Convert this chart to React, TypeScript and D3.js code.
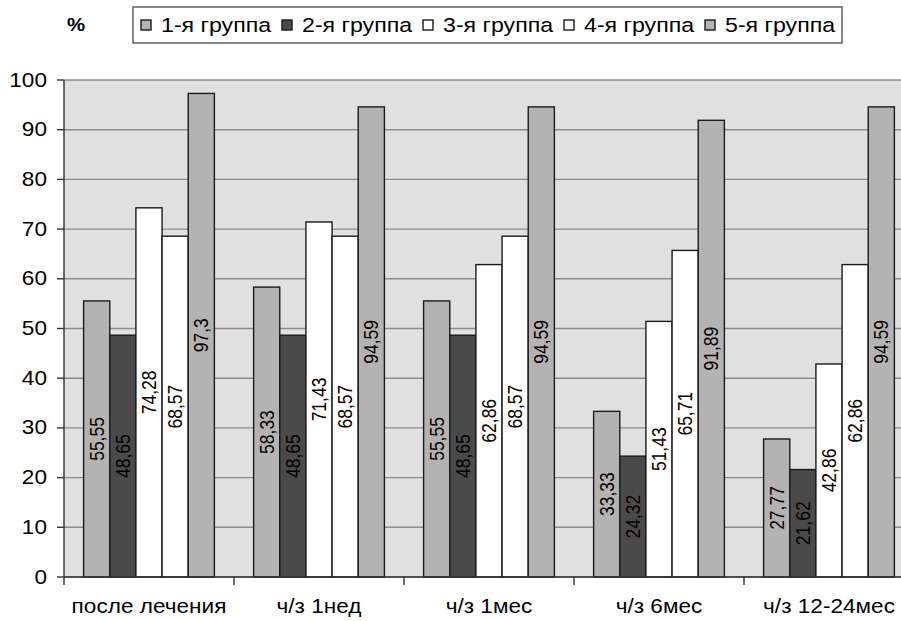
import React from 'react';
import * as d3 from 'd3';

const categories = ['после лечения', 'ч/з 1нед', 'ч/з 1мес', 'ч/з 6мес', 'ч/з 12-24мес'];
const seriesNames = ['1-я группа', '2-я группа', '3-я группа', '4-я группа', '5-я группа'];
const group1 = [55.55, 58.33, 55.55, 33.33, 27.77];
const group2 = [48.65, 48.65, 48.65, 24.32, 21.62];
const group3 = [74.28, 71.43, 62.86, 51.43, 42.86];
const group4 = [68.57, 68.57, 68.57, 65.71, 62.86];
const group5 = [97.3, 94.59, 94.59, 91.89, 94.59];
const yTicks = [0, 10, 20, 30, 40, 50, 60, 70, 80, 90, 100];
const seriesColors = ['#b3b3b3', '#4a4a4a', '#ffffff', '#ffffff', '#b3b3b3'];

const W = 901;
const H = 621;
const FONT = 'Arial, "Liberation Sans", sans-serif';
const SX = 1.13;

export default function App() {
  const series = [group1, group2, group3, group4, group5];
  const plotLeft = 64;
  const plotRight = 914;
  const plotTop = 80;
  const plotBottom = 577;

  const x0 = d3.scaleBand<string>().domain(categories).range([plotLeft, plotRight]).padding(0);
  const x1 = d3
    .scaleBand<string>()
    .domain(seriesNames)
    .range([0, x0.bandwidth()])
    .paddingInner(0)
    .paddingOuter(0.75);
  const y = d3.scaleLinear().domain([0, 100]).range([plotBottom, plotTop]);

  const fmt = (v: number) => String(v).replace('.', ',');

  const legendX = d3.scaleLinear().domain([0, 1]).range([141, 282]);

  return (
    <svg
      width={W}
      height={H}
      style={{ position: 'absolute', left: 0, top: 0, background: '#ffffff' }}
      fontFamily={FONT}
    >
      <rect x={0} y={0} width={W} height={H} fill="#ffffff" />
      {/* plot background */}
      <rect x={plotLeft} y={plotTop} width={plotRight - plotLeft} height={plotBottom - plotTop} fill="#e0e0e0" />
      {/* gridlines */}
      {yTicks.map((t) => (
        <line
          key={'g' + t}
          x1={plotLeft}
          x2={plotRight}
          y1={y(t)}
          y2={y(t)}
          stroke="#8c8c8c"
          strokeWidth={1.4}
        />
      ))}
      {/* bars */}
      {categories.map((c, ci) => (
        <g key={c} transform={`translate(${x0(c)},0)`}>
          {series.map((s, si) => {
            const v = s[ci];
            const bx = x1(seriesNames[si]) as number;
            const bw = x1.bandwidth();
            return (
              <rect
                key={si}
                x={bx}
                y={y(v)}
                width={bw}
                height={plotBottom - y(v)}
                fill={seriesColors[si]}
                stroke="#1a1a1a"
                strokeWidth={1.4}
              />
            );
          })}
          {series.map((s, si) => {
            const v = s[ci];
            const cx = (x1(seriesNames[si]) as number) + x1.bandwidth() / 2;
            const cy = (y(v) + plotBottom) / 2;
            return (
              <text
                key={'l' + si}
                transform={`translate(${cx},${cy}) rotate(-90) scale(1,${SX})`}
                textAnchor="middle"
                dominantBaseline="central"
                fontSize={17.5}
                fill="#000000"
              >
                {fmt(v)}
              </text>
            );
          })}
        </g>
      ))}
      {/* axes */}
      <line x1={plotLeft} x2={plotLeft} y1={plotTop} y2={plotBottom} stroke="#333333" strokeWidth={1.4} />
      <line x1={plotLeft} x2={plotRight} y1={plotBottom} y2={plotBottom} stroke="#333333" strokeWidth={1.4} />
      {yTicks.map((t) => (
        <g key={'t' + t}>
          <line x1={plotLeft - 7} x2={plotLeft} y1={y(t)} y2={y(t)} stroke="#333333" strokeWidth={1.4} />
          <text
            transform={`translate(47,${y(t)}) scale(${SX},1)`}
            textAnchor="end"
            dominantBaseline="central"
            fontSize={20}
            fill="#000"
          >
            {t}
          </text>
        </g>
      ))}
      {categories.map((c) => (
        <g key={'c' + c}>
          <line
            x1={x0(c) as number}
            x2={x0(c) as number}
            y1={plotBottom}
            y2={plotBottom + 8}
            stroke="#333333"
            strokeWidth={1.4}
          />
          <text
            transform={`translate(${(x0(c) as number) + x0.bandwidth() / 2},606) scale(${SX},1)`}
            textAnchor="middle"
            dominantBaseline="central"
            fontSize={20}
            fill="#000"
          >
            {c}
          </text>
        </g>
      ))}
      {/* % label */}
      <text
        transform={`translate(67,25) scale(${SX},1)`}
        dominantBaseline="central"
        fontSize={18}
        fontWeight="bold"
        fill="#000"
      >
        %
      </text>
      {/* legend */}
      <rect x={133} y={7} width={709} height={36} fill="#ffffff" stroke="#555555" strokeWidth={1.4} />
      {seriesNames.map((n, i) => (
        <g key={'lg' + n}>
          <rect
            x={legendX(i)}
            y={20}
            width={10}
            height={10}
            fill={seriesColors[i]}
            stroke="#1a1a1a"
            strokeWidth={1.4}
          />
          <text
            transform={`translate(${legendX(i) + 20},25) scale(${SX},1)`}
            dominantBaseline="central"
            fontSize={20.5}
            fill="#000"
          >
            {n}
          </text>
        </g>
      ))}
    </svg>
  );
}
